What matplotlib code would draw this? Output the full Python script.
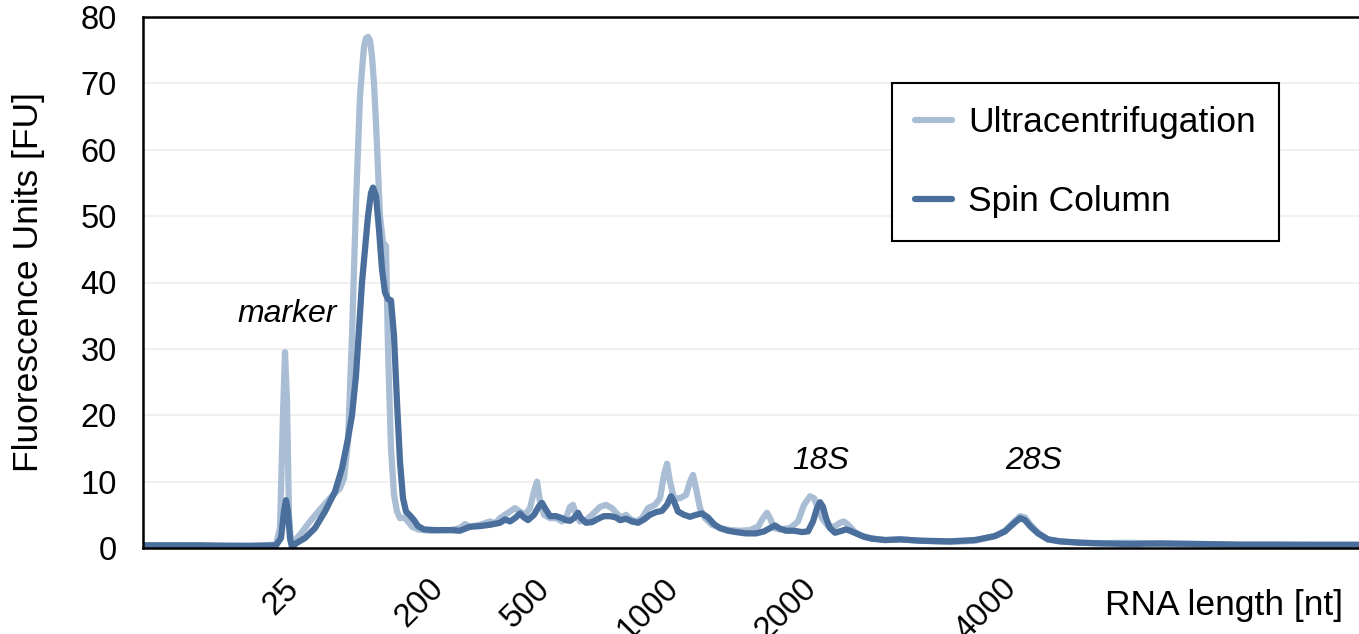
import matplotlib
matplotlib.use("Agg")
import matplotlib.pyplot as plt
import numpy as np

plt.rcParams['font.family'] = ['Liberation Sans', 'DejaVu Sans']

# electropherogram, x = scan position (arbitrary migration units)
uc_scan = [143, 180, 220, 260, 276, 280, 283, 285, 287, 289, 291, 295, 300, 310, 320, 330, 340, 344,
           348, 352, 356, 360, 362, 364, 366, 368, 370, 372, 374, 376, 378, 380, 383, 386, 388, 391,
           394, 397, 400, 404,
           408, 412, 418, 430, 450, 460, 465, 470, 480, 490, 495, 500, 510, 515, 520, 525, 530, 534,
           537, 540, 544, 550, 556, 562, 566, 570, 573, 576, 580, 586, 592, 600, 606, 612, 618, 622,
           626, 630, 636, 642, 648, 655, 660, 664, 667, 670, 674, 680, 686, 690, 693, 696, 700, 705,
           712, 720, 730, 740, 750, 758, 763, 767, 770, 774, 780, 790, 798, 804, 810, 814, 818, 822,
           828, 834, 840, 844, 848, 855, 862, 870, 885, 900, 920, 950, 975, 995, 1005, 1013, 1020,
           1025, 1030, 1038, 1048, 1060, 1080, 1100, 1130, 1160, 1200, 1240, 1280, 1320, 1359]
uc_fu = [0.4, 0.4, 0.3, 0.4, 0.5, 3, 20, 29.5, 22, 5, 0.8, 1.2, 2, 4, 5.8, 7.5, 9, 10.5,
         16, 32, 52, 68, 72, 75.5, 76.8, 77, 76.5, 74, 70, 64, 57, 50, 46, 45.5, 30, 15,
         8, 5.5, 4.5, 4.6,
         4, 3.2, 2.8, 2.6, 2.7, 3, 3.6, 3.2, 3.5, 4, 3.7, 4.5, 5.5, 6, 5.5, 5, 6, 8.5,
         10, 7, 5, 4.5, 4.5, 4, 4.5, 6.2, 6.5, 5, 4, 4.2, 5, 6.2, 6.5, 6, 5, 4.6,
         5, 4.4, 4, 4.5, 6, 6.5, 7.5, 11, 12.7, 10, 7.5, 7.5, 8, 10, 11, 9, 6, 4.5,
         3.5, 3, 2.7, 2.6, 2.7, 3.2, 4.5, 5.3, 4.5, 3, 2.8, 3, 4, 6.5, 7.8, 7.5, 6, 4.5,
         3.3, 3.2, 3.8, 4, 3.5, 2.4, 1.8, 1.5, 1.2, 1.3, 1.1, 0.9, 1.1, 1.8, 2.6, 3.8, 4.8,
         4.6, 3.6, 2.3, 1.3, 1.0, 0.8, 0.7, 0.8, 0.6, 0.6, 0.5, 0.5, 0.4, 0.4]

sc_scan = [143, 200, 250, 276, 281, 284, 286, 288, 290, 292, 296, 305, 315, 325, 335, 342, 348, 352,
           356, 359, 362, 365, 368, 371, 373, 376, 379, 382, 385, 388, 391, 394, 397, 400, 403, 406,
           410, 414, 418, 424, 435, 450, 460, 470, 480, 490, 500, 505, 510, 515, 520, 524, 528, 534,
           539, 542, 545, 550, 556, 562, 566, 570, 574, 578, 581, 586, 592, 598, 604, 610, 616, 620,
           626, 632, 638, 644, 650, 656, 662, 667, 671, 674, 678, 684, 690, 696, 702, 708, 714, 720,
           728, 736, 746, 756, 764, 770, 775, 780, 786, 794, 802, 808, 813, 817, 820, 823, 826, 830,
           835, 842, 846, 850, 856, 864, 872, 885, 900, 920, 950, 975, 995, 1005, 1013, 1020, 1025,
           1030, 1038, 1048, 1060, 1080, 1100, 1130, 1160, 1200, 1240, 1280, 1320, 1359]
sc_fu = [0.4, 0.4, 0.3, 0.4, 1.5, 5.5, 7.2, 5.5, 1.5, 0.1, 0.7, 1.5, 3, 5.5, 8.5, 12, 16.5, 20,
         26, 33, 40, 45, 50, 53.5, 54.3, 53, 48, 42, 38.5, 37.5, 37.3, 32, 22, 13, 7.5, 5.5,
         4.9, 4.2, 3.3, 2.8, 2.7, 2.7, 2.6, 3.2, 3.3, 3.5, 3.8, 4.3, 4, 4.5, 5.2, 4.6, 4.2, 5,
         6.3, 6.8, 6, 4.8, 4.8, 4.5, 4.2, 4.1, 4.5, 5.3, 4.5, 3.8, 3.9, 4.4, 4.8, 4.8, 4.6, 4.2,
         4.4, 4, 3.8, 4.3, 5, 5.4, 5.6, 6.5, 7.8, 7, 5.5, 5, 4.7, 5, 5.2, 4.6, 3.6, 3,
         2.6, 2.4, 2.2, 2.2, 2.5, 3, 3.4, 2.9, 2.6, 2.6, 2.4, 2.5, 4, 6, 6.9, 6.2, 4.5, 3,
         2.3, 2.6, 2.8, 2.6, 2.2, 1.7, 1.4, 1.2, 1.3, 1.1, 1.0, 1.2, 1.8, 2.5, 3.6, 4.5, 4.2,
         3.3, 2.2, 1.3, 1.0, 0.8, 0.7, 0.6, 0.7, 0.6, 0.5, 0.5, 0.5, 0.5]

# ladder positions on the scan axis and their sizes
ladder_scan = [305, 450, 556, 685, 823, 1023]
ladder_nt = ['25', '200', '500', '1000', '2000', '4000']

# peak labels
peak_names = ['marker', '18S', '28S']
peak_scan = [287, 821, 1034]
peak_fu = [35.3, 13.1, 13.1]

light = '#a9bdd4'
dark = '#4a6f9d'

fig = plt.figure(figsize=(13.59, 6.34), dpi=100)
ax = fig.add_axes([143 / 1359, 86 / 634, 1216 / 1359, 531 / 634])

ax.plot(uc_scan, uc_fu, color=light, lw=4.5, label='Ultracentrifugation',
        solid_joinstyle='round', solid_capstyle='round')
ax.plot(sc_scan, sc_fu, color=dark, lw=4.5, label='Spin Column',
        solid_joinstyle='round', solid_capstyle='round')

ax.set_xlim(143, 1359)
ax.set_ylim(0, 80)
ax.set_yticks(range(0, 81, 10))
ax.tick_params(axis='y', length=0, pad=19, labelsize=23.5)
ax.set_xticks(ladder_scan)
ax.set_xticklabels(ladder_nt, rotation=45, ha='right')
ax.tick_params(axis='x', length=0, pad=18, labelsize=23.5)

for v in range(10, 80, 10):
    ax.axhline(v, color='#f0f0f0', lw=1.5, zorder=0)

for s in ['left', 'top', 'bottom']:
    ax.spines[s].set_linewidth(1.8)
    ax.spines[s].set_color('black')
ax.spines['right'].set_visible(False)

ax.set_ylabel('Fluorescence Units [FU]', fontsize=25.5)
ax.yaxis.set_label_coords(-0.081, 0.5)
ax.set_xlabel('RNA length [nt]', fontsize=25.5)
ax.xaxis.set_label_coords(0.889, -0.078)

for name, x, y in zip(peak_names, peak_scan, peak_fu):
    ax.text(x, y, name, fontsize=23, style='italic', ha='center', va='center')

leg = ax.legend(loc='upper left', bbox_to_anchor=(892 / 1359, 1 - 83 / 634), bbox_transform=fig.transFigure,
                fontsize=25.5, frameon=True, fancybox=False, framealpha=1, borderaxespad=0,
                handlelength=1.05, handletextpad=0.45, borderpad=0.65, labelspacing=1.3)
leg.get_frame().set_edgecolor('black')
leg.get_frame().set_linewidth(1.5)

fig.savefig('out.png', dpi=100)
